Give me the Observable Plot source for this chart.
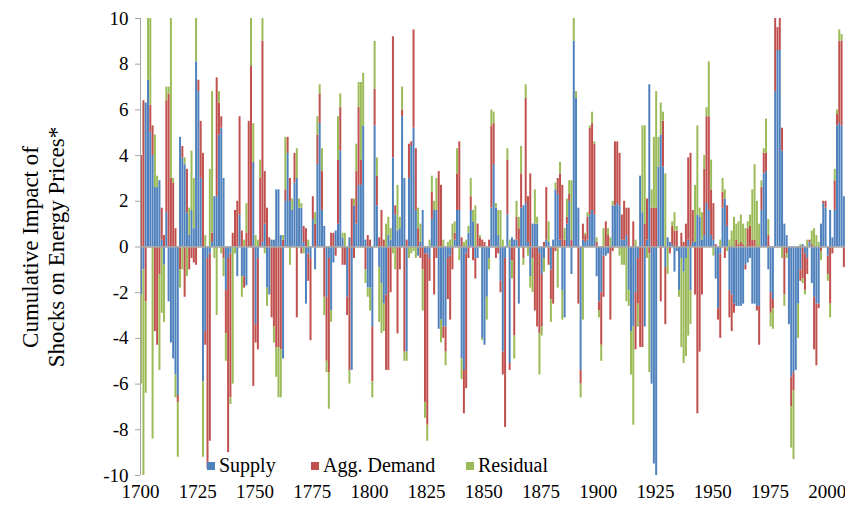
<!DOCTYPE html>
<html><head><meta charset="utf-8">
<script src="https://cdn.jsdelivr.net/npm/d3@7"></script>
<script src="https://cdn.jsdelivr.net/npm/@observablehq/plot@0.6"></script>
<style>
body{margin:0;background:#fff;}
#wrap{position:relative;width:845px;height:511px;font-family:"Liberation Serif","Times New Roman",serif;}
#wrap svg text{font-family:"Liberation Serif","Times New Roman",serif;}
.leg{position:absolute;display:flex;align-items:center;font-size:20px;color:#000;white-space:nowrap;}
.leg i{display:inline-block;width:8px;height:8px;margin-right:4px;}
</style></head><body><div id="wrap"></div>
<script>
const startYear = 1700;
const supply = [
-2.1,-1.0,6.3,7.3,5.0,4.0,2.6,2.6,2.9,0.3,
-0.8,1.5,-2.4,-4.2,-4.9,-5.6,-6.5,4.8,3.9,3.6,
1.5,0.5,1.6,0.8,8.1,6.8,3.0,-5.9,-3.7,-0.5,
-0.3,0.2,2.2,2.2,4.9,5.2,3.0,-1.9,-0.5,-0.3,
0,0,-1.3,1.4,-1.3,-1.3,-1.7,0,0,3.7,
-3.4,-0.5,0,0.2,1.0,-1.8,-2.1,0.3,0.3,2.5,
2.5,0.5,-4.9,2.0,4.1,2.0,1.6,2.8,3.0,1.7,
1.7,0.2,-2.5,-0.3,-0.5,1.2,-1.0,3.6,5.4,1.6,
0.9,-2.2,-0.5,-2.8,-0.7,0.7,1.0,4.2,0.4,0,
-2.2,0.4,-5.4,1.8,1.0,2.7,2.7,5.3,0.3,-1.8,
-1.8,-3.5,5.3,1.8,-0.9,-1.6,-2.5,-2.1,0.5,0.3,
3.9,1.4,0.7,0.8,5.7,3.0,-4.6,3.0,4.4,5.2,
1.6,-0.4,0.2,1.6,-0.3,-0.3,-0.5,1.2,1.6,1.6,
-3.6,-3.2,-3.5,-3.5,-0.5,-0.4,0,0.3,1.6,1.6,
-4.9,-5.4,-0.3,0.6,1.6,1.1,-0.5,-0.5,0,-4.0,
-4.3,-2.2,-0.5,1.7,3.6,1.7,0.5,-1.5,-4.6,-0.5,
1.4,-5.1,0.4,0.3,0.3,-2.5,1.7,1.8,1.9,0.2,
-1.3,1.0,1.0,1.0,-0.3,-1.2,-0.5,0.3,0.2,-1.0,
0.3,2.5,2.3,0.3,-1.9,-3.1,1.0,2.0,-1.2,9.0,
6.5,1.7,-5.4,0.3,0.2,0.3,1.4,1.6,1.4,-1.3,
-2.4,-2.0,-0.4,-0.4,-0.3,0,1.8,1.8,1.9,1.8,
0.3,0.3,0.5,-1.9,-3.7,-3.5,-2.0,-0.5,3.1,1.5,
-3.5,0.3,7.1,-6.0,-9.5,-10,3.5,4.9,3.5,-0.9,
0.4,0.2,0.1,-1.1,-0.2,-1.9,-0.5,-1.1,-0.5,0.3,
-1.9,0.2,0.2,1.4,1.3,0.3,0.5,1.9,1.6,0.5,
0.3,-1.4,-2.7,-0.3,1.7,2.1,0.9,-1.9,-2.1,-2.5,
-2.6,-2.6,-2.6,-2.5,-0.8,-0.7,-0.5,-2.5,-2.5,-2.6,
-2.6,1.6,3.2,3.3,-1.0,-2.0,-2.3,6.8,8.6,8.6,
4.2,1.0,0.5,-3.4,-5.7,-5.5,-5.4,-2.5,-1.0,0.1,
-0.3,-0.5,0.2,-1.6,-2.2,-2.5,-2.5,1.0,1.9,1.7,
-0.4,1.6,0.4,1.6,5.3,5.4,5.3,2.2
];
const demand = [
4.0,6.4,-2.4,0,1.2,1.3,-3.7,-4.3,-1.2,1.4,
0.5,4.9,6.7,3.0,2.8,0.8,-0.3,-1.0,0.5,-2.2,
1.9,-1.0,-0.5,-0.7,-0.8,0.5,2.5,4.1,-0.6,-9.2,
-8.2,0.4,0,5.2,1.4,0.5,-0.5,-1.9,-8.5,-6.3,
0.6,1.6,2.0,4.3,0.7,-0.5,0.6,5.5,7.9,-6.1,
-0.8,-4.0,3.0,8.8,2.3,1.7,0.4,-3.1,-3.5,-4.4,
-4.4,-4.5,0.3,0.5,0.7,1.0,0,1.3,-3.1,0,
-0.3,0.7,0.8,-1.2,-3.6,1.0,1.0,1.3,1.3,1.7,
-2.2,-2.8,-5.0,0.6,0.6,-0.4,2.8,1.9,-0.8,-0.8,
-0.8,-5.4,2.1,-0.5,2.3,3.4,1.1,0,-1.0,0.5,
0.3,-2.4,1.6,1.3,0.4,1.6,0.3,-3.3,-5.4,-2.0,
5.3,0.4,-3.8,-1.0,0.3,-4.6,0.3,1.5,0.2,4.3,
2.7,0.8,-0.5,-1.0,-6.5,-7.5,-1.0,1.2,-2.1,-0.5,
3.3,2.7,-0.5,-1.1,-1.8,-2.8,-1.0,0.3,1.6,3.0,
0.4,-1.9,-5.9,-0.5,0.6,-0.6,-0.9,1.0,0.4,0.3,
0.2,0,0.3,3.6,1.8,-0.5,-0.3,-0.5,-1.0,-7.4,
2.4,-0.3,-0.6,-3.9,1.0,0.8,1.5,-0.5,4.6,2.0,
3.2,-0.5,-2.8,-3.5,-3.5,-2.3,0.2,2.3,-0.8,-1.3,
-2.5,-0.2,0.7,2.9,2.7,0.3,0.3,0.3,0.3,0,
0,-2.5,-0.6,0.7,0.3,1.0,3.8,3.8,3.1,0.2,
-0.4,-2.3,-1.8,1.1,0.5,-3.2,-0.2,2.8,2.7,2.3,
1.1,1.7,1.2,1.7,0,1.1,-2.5,-2.0,-4.4,-4.4,
1.0,1.8,-0.3,1.7,1.7,1.7,0,-2.4,2.0,-2.5,
0,-0.3,0.8,0.7,0.7,0,0.6,0.2,1.0,3.6,
4.1,1.4,-2.1,-7.3,-4.6,-2.1,2.9,3.8,4.1,2.0,
1.6,0.1,-0.5,-3.7,0.7,-0.5,0.9,-1.2,-1.6,-0.4,
0.3,0.1,0.2,0.1,-0.2,0.8,0.9,0.3,0.3,-0.2,
-1.7,1.0,0.9,0.8,0.5,-0.9,-0.4,3.5,1.0,1.8,
1.0,-2.1,-0.3,0,-1.3,-0.8,0,0,-0.5,-1.4,
-1.6,-0.7,0.1,0.1,-2.3,-2.7,-0.2,-0.2,0.1,0.3,
-0.8,-2.5,-0.3,1.3,0.5,3.6,3.7,-0.9
];
const residual = [
-3.9,-9.0,-4.0,2.7,3.8,-8.4,2.3,0.5,-4.2,-2.9,
-2.5,0.6,0.3,7.0,0.2,-1.0,-2.4,-0.8,-1.0,0.3,
-1.3,1.2,2.6,2.2,1.9,0,0,-3.3,0.5,0,
3.4,6.2,-0.5,-3.0,0.5,-0.3,-0.8,-1.2,0,-0.3,
-6.0,-0.3,0,0,-0.9,0.3,1.3,0,2.1,1.7,
0.5,0.3,0.8,1.0,-0.3,-0.8,0,0,-0.7,-1.3,
-2.2,-2.1,0.2,2.3,0,-0.8,0.5,0,1.3,0.4,
0.2,-0.3,0,0.3,0,0,0.5,0.8,0.4,1.0,
-0.8,-0.5,-1.6,-0.5,0,0,1.9,0.6,0.2,0.6,
0,-0.6,0,0.3,1.2,1.1,3.4,2.3,-0.6,-0.4,
-1.0,-0.7,2.1,0.8,-2.4,-2.2,-1.2,1.0,0.8,0.5,
-0.3,-1.0,2.0,0.5,1.0,-0.4,-0.4,-0.5,-0.3,-0.2,
-0.5,0.9,0.8,-1.8,-0.7,-0.7,0.3,0.7,0.4,1.4,
0,-1.0,0.3,-0.6,0.2,0.3,1.0,0.5,1.1,-0.6,
-0.9,0.2,0.3,0.3,0.8,0.5,1.8,0,0.1,-0.1,
0,-1.0,-0.5,0.7,0.5,0.2,1.1,1.6,0.3,0,
0.5,0.3,-0.8,-1.0,0.7,0.5,1.2,-0.3,0.6,-0.4,
-0.5,-1.5,1.5,0.3,-1.8,-0.4,-0.6,0,0.9,-1.0,
0,0.3,-1.8,0.5,-1.3,0.5,0.8,0.6,2.6,1.0,
0.3,0,-0.6,-3.2,0.1,0.2,0.1,0.5,0.1,0.2,
-0.3,-0.7,0.8,0,0.3,0.4,0.2,0,0,-0.4,
-0.8,-0.8,-2.4,-0.7,-1.9,-4.3,0.3,-1.0,0,3.8,
4.3,-0.5,-5.2,0.8,3.1,5.1,1.3,1.4,0.4,3.2,
-1.2,0,0.2,0.8,0.2,-0.3,-3.9,-4.0,-4.3,-3.9,
-1.5,0,2.5,3.9,0.4,1.2,0.6,0.4,2.4,1.3,
-0.4,0,0,0.3,0.6,0.4,-0.2,0.3,0.7,1.3,
0.7,1.0,1.2,0.9,0.8,0.3,0.5,2.2,3.3,2.0,
1.0,0.3,0.2,1.5,0.7,-0.6,-0.9,0,0,0,
-0.5,-0.5,-0.2,0,-1.8,-3.0,0,-1.5,0.1,-0.2,
-0.2,0.3,0,0.6,0.8,0.5,0.2,-0.4,0,0,
-0.3,-0.6,0,0.5,0.2,0.5,0.3,0
];
const seriesNames = ["Supply", "Agg. Demand", "Residual"];
const seriesColors = ["#4F81BD", "#C0504D", "#9BBB59"];
const yTicks = [-10, -8, -6, -4, -2, 0, 2, 4, 6, 8, 10];
const xTicks = [1700, 1725, 1750, 1775, 1800, 1825, 1850, 1875, 1900, 1925, 1950, 1975, 2000];
const yTitle = ["Cumulative Impact of", "Shocks on Energy Prices*"];

const seriesValues = [supply, demand, residual];
const rows = [];
supply.forEach((_, i) => {
  seriesNames.forEach((name, k) => {
    rows.push({year: startYear + i, series: name, value: seriesValues[k][i]});
  });
});

const font = "Liberation Serif";
const chart = Plot.plot({
  width: 845, height: 511,
  marginLeft: 140, marginRight: 0, marginTop: 18, marginBottom: 36,
  style: {background: "white", color: "#000", overflow: "visible"},
  x: {domain: [startYear, startYear + supply.length], ticks: xTicks, label: null},
  y: {domain: [-10, 10], label: null},
  color: {domain: seriesNames, range: seriesColors},
  marks: [
    Plot.rectY(rows, {x: "year", interval: 1, y: "value", fill: "series", order: seriesNames, clip: true, insetLeft: 0.15, insetRight: 0.15}),
    Plot.ruleY([0], {stroke: "#a6a6a6", strokeWidth: 1.5}),
    Plot.ruleX([startYear], {stroke: "#a6a6a6", strokeWidth: 1}),
    Plot.axisY({ticks: yTicks, tickFormat: d => String(d), tickSize: 5, tickPadding: 7, fontSize: 19, fontFamily: font, stroke: "#a6a6a6", fill: "#000", label: null}),
    Plot.axisX({ticks: xTicks, tickFormat: d => String(d), tickSize: 0, tickPadding: 9, fontSize: 19, fontFamily: font, fill: "#000", label: null}),
    Plot.text([yTitle.join("\n")], {frameAnchor: "left", dx: -98, rotate: -90, fontSize: 23, fontFamily: font, lineHeight: 1.15, textAnchor: "middle", lineAnchor: "middle", fill: "#000"})
  ]
});
const wrap = document.getElementById("wrap");
wrap.appendChild(chart);

// legend (inside plot area, bottom)
const legendLeft = [207, 311, 466];
seriesNames.forEach((name, k) => {
  const d = document.createElement("div");
  d.className = "leg";
  d.style.left = legendLeft[k] + "px";
  d.style.top = "454px";
  d.innerHTML = `<i style="background:${seriesColors[k]}"></i><span>${name}</span>`;
  wrap.appendChild(d);
});
</script>
</body></html>
